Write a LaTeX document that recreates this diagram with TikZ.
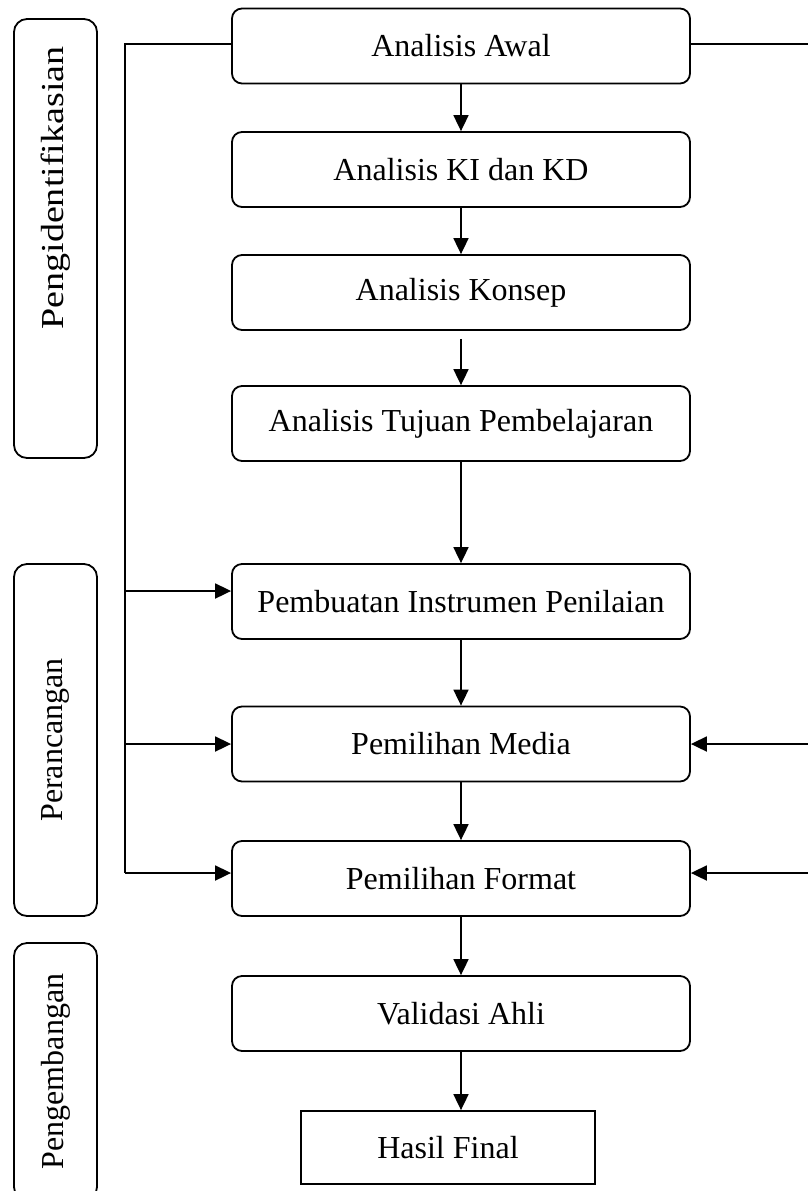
\documentclass[tikz,border=0pt]{standalone}
\usepackage{fontspec}
\setmainfont{Liberation Serif}
\usepackage{tikz}
\usetikzlibrary{arrows.meta,calc,positioning}

\begin{document}
\begin{tikzpicture}[x=0.5pt,y=-0.5pt,line width=0.9pt,
  proc/.style={draw,rounded corners=5pt,minimum width=229pt,minimum height=37.5pt,
    font=\fontsize{16}{19}\selectfont,inner sep=0pt},
  phase/.style={draw,rounded corners=6.5pt,minimum height=41.5pt,rotate=90,
    font=\fontsize{16}{19}\selectfont,inner sep=0pt},
  flow/.style={-{Triangle[length=8pt,width=7.5pt]}}]
  \useasboundingbox (0,0) rectangle (808,1191);
  % ---- main flow
  \node[proc] (awal) at (461,46) {Analisis Awal};
  \node[proc] (kikd) at (461,169.5) {Analisis KI dan KD};
  \node[proc] (konsep) at (461,292.5) {Analisis Konsep};
  \node[proc] (tujuan) at (461,423.5) {Analisis Tujuan Pembelajaran};
  \node[proc] (instrumen) at (461,601.5) {Pembuatan Instrumen Penilaian};
  \node[proc] (media) at (461,744) {Pemilihan Media};
  \node[proc] (format) at (461,878.5) {Pemilihan Format};
  \node[proc] (validasi) at (461,1013.5) {Validasi Ahli};
  \node[draw,minimum width=147pt,minimum height=36.5pt,inner sep=0pt,
    font=\fontsize{16}{19}\selectfont] (final) at (448,1147.5) {Hasil Final};
  % ---- phases
  \node[phase,minimum width=219.5pt] (ident) at (55.5,238.5) {};
  \node[rotate=90,xscale=1.19,inner sep=0pt,font=\fontsize{16}{19}\selectfont]
    (identtext) at (55.5,188) {Pengidentifikasian};
  \node[phase,minimum width=176pt] (rancang) at (55.5,740) {Perancangan};
  \node[phase,minimum width=128.5pt] (kembang) at (55.5,1071.5) {Pengembangan};
  % ---- arrows down
  \draw[flow] (awal) -- (kikd);
  \draw[flow] (kikd) -- (konsep);
  \draw[flow,shorten <=4pt] (konsep) -- (tujuan);
  \draw[flow] (tujuan) -- (instrumen);
  \draw[flow] (instrumen) -- (media);
  \draw[flow] (media) -- (format);
  \draw[flow] (format) -- (validasi);
  \draw[flow] (validasi.south) -- (validasi.south |- final.north);
  % ---- left feedback
  \coordinate (lt) at (125,44);
  \draw (awal.west |- lt) -- (lt) -- (lt |- 0,873);
  \draw[flow] ([yshift=5.25pt]instrumen.west -| lt) -- ([yshift=5.25pt]instrumen.west);
  \draw[flow] (media.west -| lt) -- (media.west);
  \draw[flow] ([yshift=2.75pt]format.west -| lt) -- ([yshift=2.75pt]format.west);
  % ---- right feedback
  \coordinate (rt) at (810,44);
  \draw (awal.east |- rt) -- (rt) -- (rt |- 0,873);
  \draw[flow] (media.east -| rt) -- (media.east);
  \draw[flow] ([yshift=2.75pt]format.east -| rt) -- ([yshift=2.75pt]format.east);
\end{tikzpicture}
\end{document}
